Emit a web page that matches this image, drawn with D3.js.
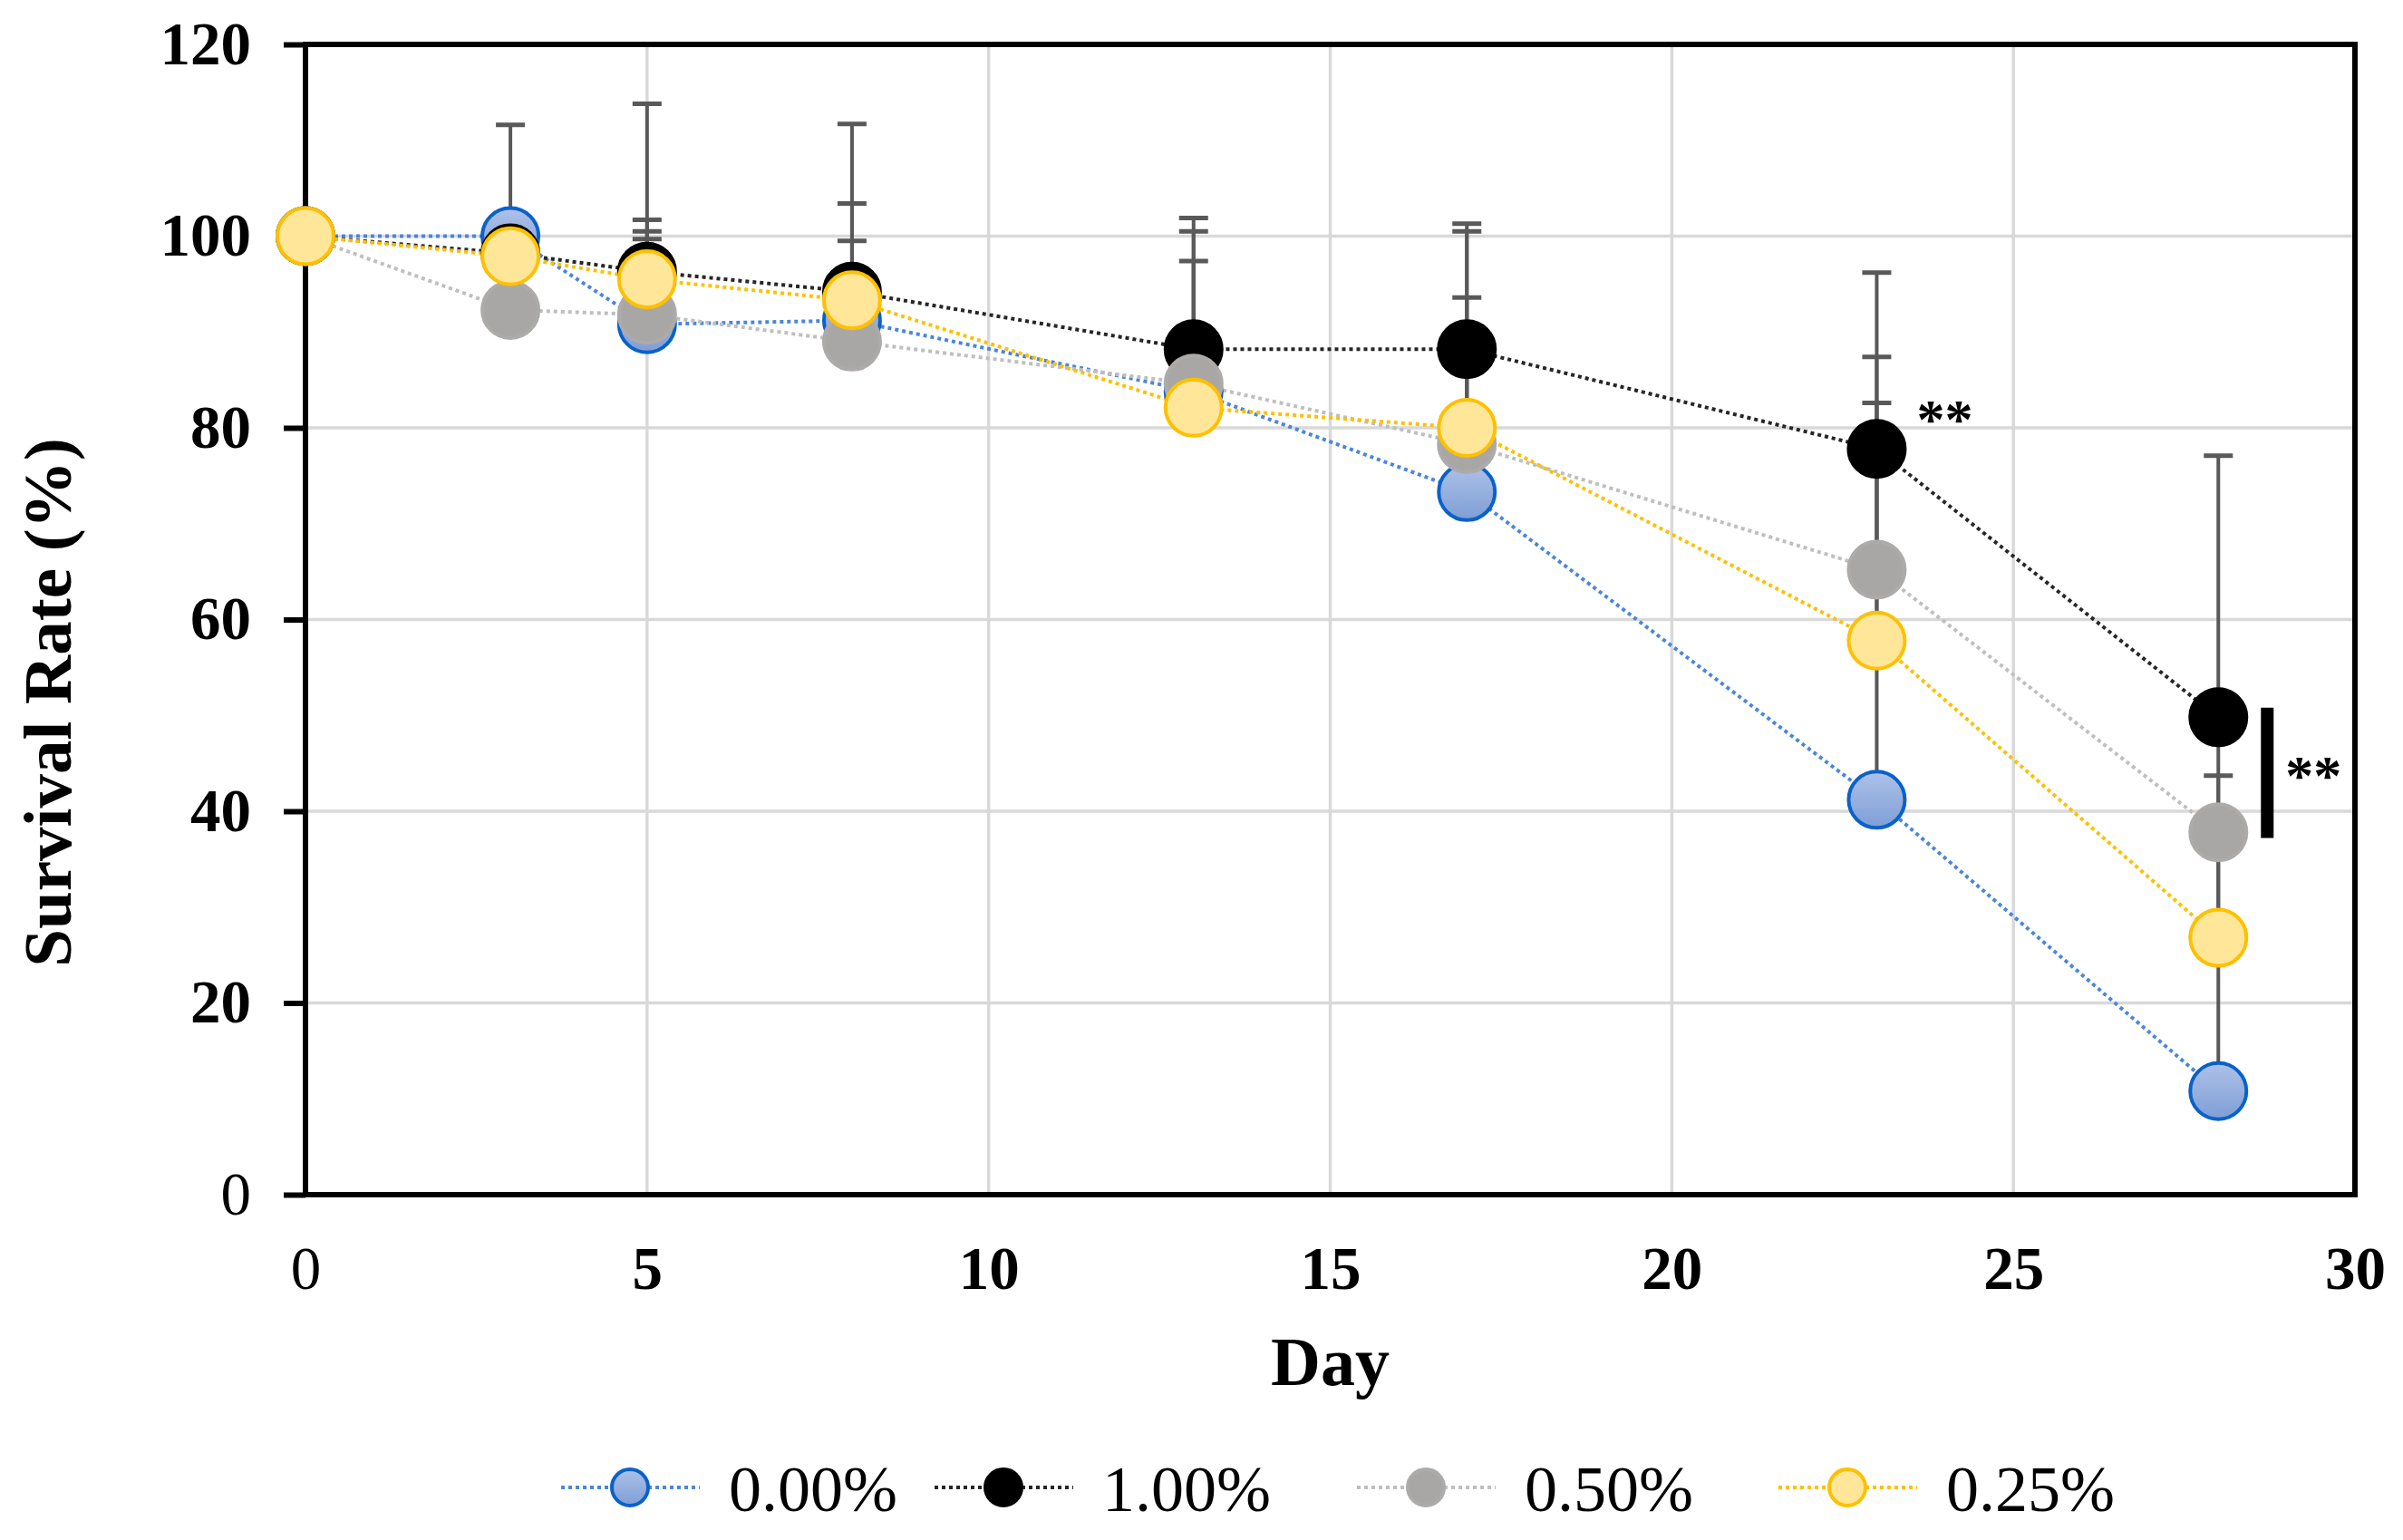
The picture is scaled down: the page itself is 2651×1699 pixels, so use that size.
<!DOCTYPE html>
<html>
<head>
<meta charset="utf-8">
<script src="https://cdn.jsdelivr.net/npm/d3@7"></script>
<style>
  body { margin: 0; background: #fff; }
  text { font-family: "Liberation Serif", "Times New Roman", serif; }
</style>
</head>
<body>
<div id="chart"></div>
<script>
// ---- data ----
var days = [0, 3, 5, 8, 13, 17, 23, 28];
var seriesNames = ["0.00%", "1.00%", "0.50%", "0.25%"];
var survival000 = [100, 100, 90.8, 91.2, 83.8, 73.3, 41.2, 10.8];
var survival100 = [100, 98.2, 96.3, 94.2, 88.2, 88.2, 77.8, 49.8];
var survival050 = [100, 92.3, 91.8, 89.0, 84.6, 78.3, 65.2, 37.8];
var survival025 = [100, 97.9, 95.5, 93.3, 82.1, 80.0, 57.8, 26.8];
// upper error bars (plus only)
var err000 = [0, 1.0, 8.9, 5.0, 6.5, 12.7, 34.8, 37.2];
var err100 = [0, 13.4, 17.5, 17.5, 13.7, 13.1, 18.4, 27.3];
var err050 = [0, 2.0, 8.7, 10.5, 15.9, 22.2, 22.2, 5.9];
var err025 = [0, 1.5, 6.2, 10.1, 15.3, 13.6, 24.8, 9.6];
var xTicks = [0, 5, 10, 15, 20, 25, 30];
var yTicks = [0, 20, 40, 60, 80, 100, 120];

// ---- styles ----
var styles = [
  { line: "#4A86DE", fill: "url(#blueGrad)", stroke: "#0A62C9" },
  { line: "#262626", fill: "#000000", stroke: "#000000" },
  { line: "#BFBFBF", fill: "#A9A7A6", stroke: "#ADABAA" },
  { line: "#FFC000", fill: "#FFE699", stroke: "#FFC000" }
];
var values = [survival000, survival100, survival050, survival025];
var errors = [err000, err100, err050, err025];

var width = 2651;
var height = 1699;

var svg = d3.select("#chart")
  .append("svg")
  .attr("width", width)
  .attr("height", height);

var defs = svg.append("defs");
var grad = defs.append("linearGradient")
  .attr("id", "blueGrad")
  .attr("x1", 0).attr("y1", 0).attr("x2", 0).attr("y2", 1);
grad.append("stop").attr("offset", "0%").attr("stop-color", "#ADC1E8");
grad.append("stop").attr("offset", "100%").attr("stop-color", "#7F9ED6");

var x = d3.scaleLinear().domain([0, 30]).range([337, 2598]);
var y = d3.scaleLinear().domain([0, 120]).range([1318, 49]);

// gridlines
svg.append("g")
  .selectAll("line")
  .data(xTicks.slice(1, -1))
  .enter()
  .append("line")
  .attr("x1", d => x(d)).attr("x2", d => x(d))
  .attr("y1", y(0)).attr("y2", y(120))
  .attr("stroke", "#D9D9D9")
  .attr("stroke-width", 3.5);

svg.append("g")
  .selectAll("line")
  .data(yTicks.slice(1, -1))
  .enter()
  .append("line")
  .attr("x1", x(0)).attr("x2", x(30))
  .attr("y1", d => y(d)).attr("y2", d => y(d))
  .attr("stroke", "#D9D9D9")
  .attr("stroke-width", 3.5);

// axes (d3 axis for ticks + labels)
var yAxis = svg.append("g")
  .attr("transform", "translate(" + x(0) + ",0)")
  .call(d3.axisLeft(y).tickValues(yTicks).tickSize(24).tickPadding(36));
yAxis.select(".domain").remove();
yAxis.selectAll(".tick line").attr("stroke", "#000").attr("stroke-width", 6);
yAxis.selectAll(".tick text")
  .attr("font-family", "Liberation Serif")
  .attr("font-size", 67)
  .attr("font-weight", d => d === 0 ? "normal" : "bold")
  .attr("fill", "#000");

var xAxis = svg.append("g")
  .attr("transform", "translate(0," + y(0) + ")")
  .call(d3.axisBottom(x).tickValues(xTicks).tickSize(0).tickPadding(56));
xAxis.select(".domain").remove();
xAxis.selectAll(".tick text")
  .attr("font-family", "Liberation Serif")
  .attr("font-size", 67)
  .attr("font-weight", d => d === 0 ? "normal" : "bold")
  .attr("fill", "#000");

// plot frame
svg.append("rect")
  .attr("x", x(0)).attr("y", y(120))
  .attr("width", x(30) - x(0))
  .attr("height", y(0) - y(120))
  .attr("fill", "none")
  .attr("stroke", "#000")
  .attr("stroke-width", 6);

// error bars (plus side only)
var errG = svg.append("g");
values.forEach(function (vals, si) {
  days.forEach(function (day, i) {
    var e = errors[si][i];
    if (!e) return;
    var cx = x(day);
    errG.append("line")
      .attr("x1", cx).attr("x2", cx)
      .attr("y1", y(vals[i])).attr("y2", y(vals[i] + e))
      .attr("stroke", "#595959").attr("stroke-width", 4);
    errG.append("line")
      .attr("x1", cx - 16).attr("x2", cx + 16)
      .attr("y1", y(vals[i] + e)).attr("y2", y(vals[i] + e))
      .attr("stroke", "#595959").attr("stroke-width", 5);
  });
});

// dotted connecting lines
var line = d3.line()
  .x((d, i) => x(days[i]))
  .y(d => y(d));

values.forEach(function (vals, si) {
  svg.append("path")
    .attr("d", line(vals))
    .attr("fill", "none")
    .attr("stroke", styles[si].line)
    .attr("stroke-width", 4)
    .attr("stroke-dasharray", "4,4");
});

// markers
values.forEach(function (vals, si) {
  svg.append("g")
    .selectAll("circle")
    .data(vals)
    .enter()
    .append("circle")
    .attr("cx", (d, i) => x(days[i]))
    .attr("cy", d => y(d))
    .attr("r", 31)
    .attr("fill", styles[si].fill)
    .attr("stroke", styles[si].stroke)
    .attr("stroke-width", 4);
});

// significance marks
svg.append("text")
  .attr("x", x(23) + 44)
  .attr("y", y(survival100[6]) - 12)
  .attr("font-size", 62)
  .attr("font-weight", "bold")
  .text("**");

svg.append("line")
  .attr("x1", x(28) + 54).attr("x2", x(28) + 54)
  .attr("y1", y(50.8)).attr("y2", y(37.2))
  .attr("stroke", "#000")
  .attr("stroke-width", 14);

svg.append("text")
  .attr("x", x(28) + 74)
  .attr("y", y(44.6) + 30)
  .attr("font-size", 62)
  .attr("font-weight", "bold")
  .text("**");

// axis titles
svg.append("text")
  .attr("transform", "translate(52,775) rotate(-90)")
  .attr("text-anchor", "middle")
  .attr("dominant-baseline", "central")
  .attr("font-size", 75)
  .attr("font-weight", "bold")
  .text("Survival Rate (%)");

svg.append("text")
  .attr("x", (x(0) + x(30)) / 2)
  .attr("y", 1528)
  .attr("text-anchor", "middle")
  .attr("font-size", 76)
  .attr("font-weight", "bold")
  .text("Day");

// legend
var legendStarts = [619, 1031, 1497, 1962];
var legendY = 1641;
seriesNames.forEach(function (name, si) {
  var lx = legendStarts[si];
  var lg = svg.append("g");
  lg.append("line")
    .attr("x1", lx).attr("x2", lx + 153)
    .attr("y1", legendY).attr("y2", legendY)
    .attr("stroke", styles[si].line)
    .attr("stroke-width", 4)
    .attr("stroke-dasharray", "4,4");
  lg.append("circle")
    .attr("cx", lx + 76).attr("cy", legendY)
    .attr("r", 20)
    .attr("fill", styles[si].fill)
    .attr("stroke", styles[si].stroke)
    .attr("stroke-width", 4);
  lg.append("text")
    .attr("x", lx + 185)
    .attr("y", legendY + 26)
    .attr("font-size", 72)
    .text(name);
});
</script>
</body>
</html>
